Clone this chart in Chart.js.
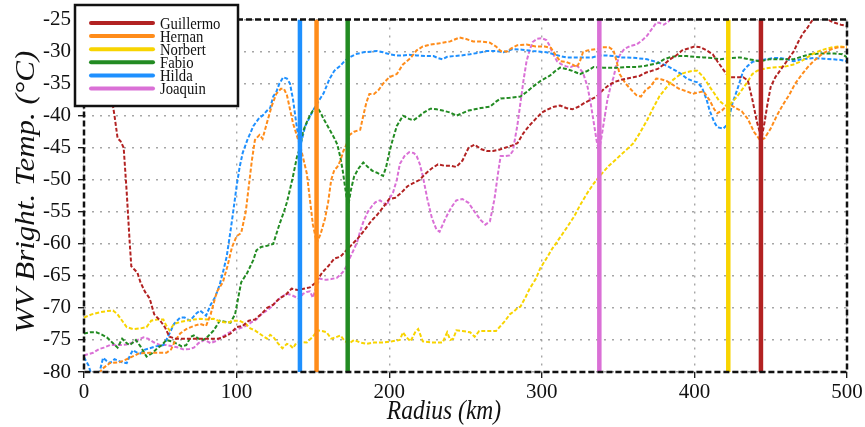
<!DOCTYPE html>
<html><head><meta charset="utf-8">
<script src="https://cdn.jsdelivr.net/npm/chart.js@4"></script>
<style>html,body{margin:0;padding:0;background:#fff}canvas{display:block}</style>
</head><body>
<canvas id="c" width="865" height="427"></canvas>
<script>
const stormNames = ['Guillermo','Hernan','Norbert','Fabio','Hilda','Joaquin'];
const stormColors = ['#b22222','#ff8c1a','#f8d400','#228b22','#1e90ff','#da70d6'];
const markerRadius = [443.6, 152.4, 422.2, 172.8, 141.5, 337.7];
const xTicks = [0,100,200,300,400,500];
const yTicks = [-25,-30,-35,-40,-45,-50,-55,-60,-65,-70,-75,-80];
const xTitle = 'Radius (km)';
const yTitle = 'WV Bright. Temp. (°C)';

const guillermo = [[0,-24],[5,-26],[10,-29],[15,-33],[18,-37],[20,-40],[22,-43.5],[24,-44],[26,-45],[28,-52],[30,-60],[31,-63.5],[33,-64],[35,-64.5],[37,-66],[40,-67.5],[43,-68.5],[46,-71],[50,-72],[53,-73],[56,-74.5],[60,-74.8],[70,-74.8],[80,-74.8],[88,-74.8],[92,-74.5],[96,-74],[100,-73],[104,-72.8],[108,-72],[112,-71.8],[116,-71],[120,-70],[124,-69.5],[128,-68.5],[132,-68],[136,-67],[140,-67.2],[144,-67],[148,-66.8],[152,-66],[156,-64.5],[160,-63.5],[164,-62.3],[168,-62],[172,-61],[176,-60],[180,-59],[184,-57.8],[188,-56.5],[192,-55.5],[196,-54.3],[200,-53],[204,-52.8],[208,-52],[212,-51],[216,-50.5],[220,-50],[224,-49],[228,-48.2],[232,-47.6],[236,-47.8],[240,-47.8],[244,-48],[248,-47],[252,-45],[256,-44.5],[260,-45.2],[264,-45.5],[268,-45.5],[272,-45.3],[276,-45],[280,-44.7],[284,-44.3],[288,-42.7],[292,-41.5],[296,-40.5],[300,-39.5],[304,-39],[308,-38.6],[312,-38.4],[316,-38.8],[320,-39],[324,-38.6],[328,-38],[332,-37.5],[336,-37],[340,-36],[344,-35.2],[348,-34.7],[352,-34.4],[356,-34.2],[360,-34],[364,-33.8],[368,-33.3],[372,-33],[376,-32.7],[380,-32],[384,-31.2],[388,-30.6],[392,-29.8],[396,-29.5],[400,-29.2],[404,-29.3],[408,-29.8],[412,-30.4],[415,-31.5],[418,-32.5],[421,-33.5],[424,-34],[428,-34],[432,-34],[435,-34.5],[438,-37.5],[441,-41],[444,-43.5],[446,-41],[448,-38],[450,-35.5],[453,-34],[456,-33],[459,-32],[462,-31],[465,-30],[468,-28.5],[471,-27.2],[474,-26.3],[477,-25.2],[480,-24.5],[485,-24.3],[489,-25.2],[492,-25.5],[496,-25.8],[500,-26]];

const hernan = [[0,-83],[5,-82],[9,-80.5],[12,-79.5],[17,-78.6],[23,-78.5],[30,-77.8],[36,-77.1],[43,-77],[50,-77],[54,-77],[57,-76.5],[60,-75],[63,-74],[67,-73.3],[72,-72.8],[76,-72.5],[80,-72.8],[83,-71],[87,-67.5],[91,-66],[94,-63.5],[97,-60.5],[100,-58.8],[103,-58.3],[106,-55],[108,-51],[110,-47],[112,-43.8],[115,-43],[117,-43.6],[120,-41],[123,-38.5],[126,-36.6],[129,-35.8],[131,-35.8],[133,-36.8],[135,-39],[137,-41.2],[140,-43.5],[142,-45],[144,-47],[146,-49],[148,-53],[150,-57],[152.5,-59.8],[155,-58.5],[158,-56],[160,-53.5],[162,-50],[164,-48.5],[166,-48],[168,-47],[170,-45.5],[172,-44.5],[174,-43],[177,-42.5],[181,-42.2],[183,-40],[185,-38],[187,-36.6],[190,-36.6],[193,-36],[196,-35],[200,-34],[205,-33.5],[209,-32],[214,-31],[218,-29.8],[222,-29.2],[227,-28.9],[233,-28.7],[240,-28.4],[246,-27.8],[250,-28],[255,-28.4],[260,-28.4],[266,-28.6],[270,-29.2],[273,-29.9],[277,-30],[280,-29.5],[284,-29],[290,-28.9],[296,-29.2],[302,-29.2],[306,-29.4],[309,-30.5],[312,-31.5],[316,-31.6],[320,-32],[323,-32.4],[325,-31.5],[327,-30.1],[330,-29.8],[336,-29.6],[340,-29.3],[344,-29.3],[347,-29.8],[349,-31.5],[351,-33.5],[355,-35],[358,-35.8],[362,-36.8],[365,-37],[368,-36],[371,-35.5],[375,-34.2],[378,-34.3],[382,-34.6],[386,-35.2],[390,-35.8],[395,-36.2],[399,-36.6],[402,-36.4],[406,-36.2],[410,-37.6],[413,-39],[415,-39.6],[418,-39.2],[421,-38.5],[423,-38.2],[427,-38.8],[431,-39.3],[435,-40.5],[439,-42.5],[443,-43.8],[446,-43.5],[450,-42],[454,-40],[458,-38.3],[462,-36.8],[466,-35],[470,-33.7],[474,-32.5],[478,-31.5],[483,-30.5],[487,-29.9],[491,-29.5],[495,-29.3],[500,-29.3]];

const norbert = [[0,-71.5],[5,-71],[10,-70.7],[15,-70.5],[19,-70.4],[22,-71],[25,-72],[28,-73],[32,-73.3],[37,-73.2],[41,-73],[44,-72],[48,-71.8],[52,-71.8],[54,-72.8],[56,-73.5],[59,-72.5],[63,-72.2],[67,-72],[72,-71.8],[76,-71.7],[80,-71.8],[85,-71.7],[90,-72.2],[94,-72.3],[98,-72],[102,-72],[106,-72.5],[109,-73.2],[112,-73.5],[115,-74],[118,-74.5],[120,-74.8],[122,-74.2],[124,-74.5],[127,-75.5],[130,-76.3],[133,-75.6],[135,-75.8],[137,-76.3],[139,-75.5],[142,-75.3],[146,-75.4],[150,-74.5],[153,-73.5],[156,-73.6],[159,-73.8],[162,-74.8],[165,-74.6],[168,-74.3],[171,-75.2],[174,-75.5],[177,-75],[181,-75.4],[185,-75.6],[190,-75.4],[196,-75.4],[202,-75.2],[207,-75],[209,-73.8],[211,-74.5],[214,-75.2],[217,-73.8],[219,-73.3],[222,-75.2],[228,-75.4],[235,-75.4],[238,-73.8],[240,-75],[242,-74.8],[244,-73.5],[248,-73.6],[253,-73.8],[256,-74.5],[259,-73.6],[264,-73.6],[270,-73.6],[273,-72.8],[276,-72],[279,-71],[282,-70.5],[284,-70],[286,-69.8],[289,-68.5],[292,-67],[296,-65.5],[299,-63.8],[303,-62.3],[307,-60.7],[312,-59],[316,-57.6],[321,-55.8],[325,-54],[330,-52],[334,-50.6],[338,-49.4],[344,-47.8],[351,-46.3],[356,-45.2],[360,-44.3],[364,-42.8],[369,-40.7],[373,-38.8],[377,-37],[382,-35.5],[386,-34.4],[391,-33.5],[395,-33.2],[399,-33],[402,-33],[406,-34],[410,-35.5],[413,-36.5],[416,-37.6],[419,-38.2],[422,-38.6],[425,-37.8],[428,-37],[431,-36],[434,-35],[438,-33.5],[441,-33],[445,-32.7],[450,-32.5],[456,-32.4],[460,-32.3],[465,-32],[470,-31.5],[474,-30.9],[478,-30.3],[482,-29.9],[487,-29.5],[491,-29.3],[495,-29.2],[500,-29.3]];

const fabio = [[0,-74],[4,-73.8],[8,-73.8],[12,-74.2],[15,-74.6],[19,-75.5],[22,-76.2],[25,-74.8],[28,-75.5],[30,-75.8],[34,-75],[37,-76],[41,-77.6],[45,-77],[48,-76.3],[51,-75.8],[54,-75],[57,-75.2],[61,-75.6],[64,-76],[67,-75.8],[70,-74.5],[72,-74.3],[75,-74.8],[78,-75],[81,-74.5],[85,-73.5],[89,-72],[93,-72.2],[96,-72.3],[99,-71],[101,-68.5],[103,-66],[107,-64.5],[111,-62.5],[113,-61],[116,-60.5],[120,-60.3],[124,-60],[126,-58.5],[128,-57],[131,-55],[133,-53.5],[135,-51.5],[137,-49.4],[139.5,-46.5],[141.5,-45],[143.5,-42.5],[146,-41],[148,-40],[150,-39.2],[152.5,-38.6],[155,-39.5],[157,-40.5],[161,-42.2],[164,-43.5],[166,-44.5],[168,-46.5],[169.5,-48.5],[171,-51],[173,-54.3],[175,-51.5],[177,-49.5],[180,-48.2],[183,-47.3],[186,-48],[189,-48.6],[192,-48.9],[196,-49.4],[198,-48],[200,-45.8],[202,-44],[205,-41.6],[209,-40],[213,-40.5],[216,-40.7],[219,-40.2],[222,-39.6],[227,-38.9],[231,-39],[235,-39.2],[240,-39.5],[244,-40],[248,-39.6],[252,-39.2],[256,-39],[260,-38.8],[266,-38.6],[270,-37.8],[273,-37.3],[279,-37.2],[286,-37],[290,-36.3],[294,-35.5],[299,-34.6],[305,-33.8],[309,-33],[312,-32.5],[316,-32.7],[320,-33],[325,-33.5],[330,-33],[334,-32.4],[340,-32.5],[345,-32.5],[350,-32.5],[356,-32.4],[362,-32.4],[368,-32.2],[372,-32],[376,-31.8],[380,-31.2],[385,-30.8],[390,-30.7],[395,-30.7],[400,-30.8],[406,-30.9],[412,-31],[417,-31.2],[423,-31],[430,-30.9],[436,-31.2],[443,-31.5],[449,-31.2],[454,-31.2],[460,-31.2],[465,-31.2],[470,-30.8],[476,-30.4],[482,-30.3],[487,-30.3],[492,-30.3],[497,-30.4],[500,-30.9]];

const hilda = [[0,-77.7],[3,-79],[5,-80.5],[8,-81],[10,-80.2],[12.5,-77.8],[15,-78.3],[17,-78.6],[20,-78],[22,-78.2],[25,-78.5],[28,-78.6],[30,-77.5],[32,-76.6],[35,-77],[37,-77.1],[40,-76.5],[43,-76.3],[47,-76],[52,-75.8],[54,-75],[56,-74],[59,-72.5],[63,-71.5],[66,-71.5],[69.5,-72],[73,-71],[76,-70.4],[78,-70.8],[80,-71.2],[83,-69.5],[86,-68.3],[89,-66.3],[91,-64.5],[93.5,-62],[96,-58],[98,-54.6],[100,-51],[102,-48],[104,-45.8],[107,-43.8],[109,-42.7],[111,-41.6],[115,-40.3],[117,-40],[120,-39.2],[122,-38.8],[124,-37],[126,-36.3],[128,-35],[130.5,-34],[133,-34.2],[135,-35],[137,-37.5],[139,-41],[141.5,-45],[143,-43.5],[145,-41.6],[148,-40.2],[150,-39.2],[153,-38],[157,-36.5],[161,-34.2],[164,-33],[168,-32.2],[171,-31.4],[174,-30.9],[178,-30.4],[183,-30.1],[188,-30],[192,-29.9],[196,-30.1],[200,-30.4],[205,-30.6],[209,-30.6],[213,-30.5],[218,-30.6],[225,-30.7],[229,-30.7],[232,-31],[235,-31.2],[238,-30.8],[242,-30.7],[247,-30.6],[253,-30.4],[258,-30.2],[264,-29.9],[270,-29.9],[275,-30.1],[281,-29.6],[287,-29.7],[294,-29.9],[303,-30.1],[308,-30.4],[312,-30.7],[316,-30.9],[320,-30.9],[325,-30.9],[333,-30.9],[338,-30.6],[343,-30.6],[348,-30.7],[351,-30.9],[356,-30.9],[362,-31],[369,-31.2],[375,-31.6],[382,-32.2],[388,-33],[392,-33.6],[395,-34.2],[399,-34.6],[402,-34.8],[405,-35.6],[408,-37.5],[410,-39.2],[413,-41],[415,-41.8],[419,-42],[421,-41.5],[423,-40],[425,-38],[428,-36],[430,-34.5],[432,-33],[435,-32.2],[438,-31.6],[442,-31.4],[447,-31.2],[452,-31],[456,-31],[461,-31.2],[465,-31.5],[470,-31.2],[478,-31],[485,-31.1],[491,-31.2],[496,-31.3],[500,-31.5]];

const joaquin = [[0,-77.4],[3,-77.2],[6,-77],[10,-76.4],[13,-76.2],[17,-75.8],[20,-75.8],[24,-75.8],[28,-75.7],[32,-75.4],[36,-74.9],[39,-74.6],[42,-74.8],[46,-75.4],[50,-75.8],[54,-75.8],[58,-76],[62,-76.2],[65.5,-76.5],[69,-76.4],[72,-76.2],[75,-75.5],[79,-75],[83,-75.5],[86,-75.2],[90,-74.6],[94,-74],[98,-73.5],[102,-73.2],[107,-72.7],[110,-72.2],[113,-71.8],[117,-70.8],[120,-70.4],[123,-69.8],[126,-69],[130,-68.2],[133,-67.8],[136,-68],[139.5,-68.4],[141.5,-68.6],[143.5,-67.8],[146,-67.5],[148,-67.4],[150,-68.4],[152.5,-66.5],[154.7,-65.4],[157,-65.6],[159,-65.6],[162,-65.5],[165.7,-65.3],[168,-64.8],[170,-64.3],[172,-63.5],[174,-62.3],[177,-60.8],[179,-59.7],[181,-58],[183,-56.6],[186,-55],[189,-54],[191,-53.5],[194,-53.2],[196,-53.6],[198.6,-54],[200,-53],[202.5,-52],[205,-50],[207,-47.5],[210,-46.3],[213,-45.7],[216,-45.8],[218,-46.3],[220,-47.5],[222,-49.4],[225,-53],[228,-56],[231,-57.8],[233,-58.1],[236,-56.5],[238,-55.5],[241,-54.2],[244,-53.2],[248,-53],[252,-53.6],[256,-55],[260,-56.3],[263,-57],[266,-56.5],[269,-53],[271,-49.5],[273,-46.3],[276,-46.3],[279,-46.2],[281,-45.5],[284,-41.5],[286,-38],[288,-34.5],[290,-31.5],[292,-29.8],[294,-28.5],[297,-28],[300,-27.9],[303,-28.2],[305,-29],[307,-30.2],[310,-31.5],[313,-32],[316,-32.3],[319,-32.4],[322,-32.1],[324,-32.4],[327,-33.3],[330,-35.5],[332,-38],[334,-41],[336,-44],[337.5,-45.5],[339,-43.5],[341,-40.5],[343,-37.5],[345,-35.5],[347,-34],[349,-32],[351,-30.6],[354,-29.6],[358,-29.1],[362,-28.9],[366,-28.2],[369,-27.5],[372,-26.5],[375,-25.5],[377,-25.5],[380,-25.8],[383,-25.3],[386,-24.5],[390,-24]];

const seriesData = [guillermo, hernan, norbert, fabio, hilda, joaquin];
const SERIF = '"Liberation Serif", "Times New Roman", serif';

const datasets = seriesData.map((pts, i) => ({
  label: stormNames[i],
  data: pts.map(p => ({x: p[0], y: p[1]})),
  borderColor: stormColors[i],
  backgroundColor: stormColors[i],
  borderWidth: 2,
  borderDash: [4, 2],
  pointRadius: 0,
  tension: 0,
  fill: false,
  clip: 0,
  order: 1
}));
markerRadius.forEach((r, i) => datasets.push({
  label: stormNames[i] + ' marker',
  isMarker: true,
  data: [{x: r, y: yTicks[yTicks.length - 1]}, {x: r, y: yTicks[0]}],
  borderColor: stormColors[i],
  borderWidth: 4.5,
  pointRadius: 0,
  fill: false,
  clip: 0,
  order: 0
}));

const decor = {
  id: 'decor',
  afterDatasetsDraw(chart) {
    const {ctx, chartArea: a} = chart;
    ctx.save();
    ctx.strokeStyle = '#111';
    ctx.lineWidth = 2.5;
    ctx.setLineDash([6, 3]);
    ctx.strokeRect(a.left, a.top, a.right - a.left, a.bottom - a.top);
    ctx.restore();
  },
  afterDraw(chart) {
    const {ctx} = chart;
    ctx.save();
    ctx.fillStyle = '#fff';
    ctx.fillRect(75, 5, 163, 101);
    ctx.strokeStyle = '#111';
    ctx.lineWidth = 2.5;
    ctx.setLineDash([]);
    ctx.strokeRect(75, 5, 163, 101);
    const items = chart.data.datasets.filter(d => !d.isMarker);
    items.forEach((d, i) => {
      const y = 23 + i * 13.1;
      ctx.strokeStyle = d.borderColor;
      ctx.lineWidth = 4;
      ctx.lineCap = 'round';
      ctx.beginPath(); ctx.moveTo(91, y); ctx.lineTo(153, y); ctx.stroke();
      ctx.save();
      ctx.translate(160, y + 5.5);
      ctx.scale(0.84, 1);
      ctx.fillStyle = '#111';
      ctx.font = '17.5px ' + SERIF;
      ctx.textBaseline = 'alphabetic';
      ctx.fillText(d.label, 0, 0);
      ctx.restore();
    });
    ctx.restore();
    ctx.save();
    ctx.fillStyle = '#111';
    ctx.font = 'italic 28px ' + SERIF;
    ctx.textAlign = 'center';
    ctx.textBaseline = 'alphabetic';
    ctx.translate(444, 419);
    ctx.scale(0.84, 1);
    ctx.fillText(xTitle, 0, 0);
    ctx.restore();
    ctx.save();
    ctx.fillStyle = '#111';
    ctx.font = 'italic 31px ' + SERIF;
    ctx.textAlign = 'center';
    ctx.textBaseline = 'alphabetic';
    ctx.translate(34, 192);
    ctx.rotate(-Math.PI / 2);
    ctx.scale(1, 0.88);
    ctx.fillText(yTitle, 0, 0);
    ctx.restore();
  }
};

new Chart(document.getElementById('c'), {
  type: 'line',
  data: {datasets},
  options: {
    responsive: false,
    animation: false,
    devicePixelRatio: 1,
    layout: {padding: {top: 15, right: 18, left: 0, bottom: 0}},
    plugins: {legend: {display: false}, tooltip: {enabled: false}, title: {display: false}},
    scales: {
      x: {
        type: 'linear', min: xTicks[0], max: xTicks[xTicks.length - 1],
        afterBuildTicks: s => { s.ticks = xTicks.map(v => ({value: v})); },
        afterFit: s => { s.height = 55; },
        ticks: {font: {family: SERIF, size: 21}, color: '#111', padding: 2, maxRotation: 0},
        grid: {color: 'rgba(150,150,150,0.85)', lineWidth: 1.4, tickColor: '#111', tickLength: 6, tickWidth: 1.3},
        border: {display: false, dash: [2, 6]}
      },
      y: {
        type: 'linear', min: yTicks[yTicks.length - 1], max: yTicks[0],
        afterBuildTicks: s => { s.ticks = yTicks.map(v => ({value: v})); },
        afterFit: s => { s.width = 84; },
        ticks: {font: {family: SERIF, size: 21}, color: '#111', padding: 7},
        grid: {color: 'rgba(150,150,150,0.85)', lineWidth: 1.4, tickColor: '#111', tickLength: 6, tickWidth: 1.3},
        border: {display: false, dash: [2, 6]}
      }
    }
  },
  plugins: [decor]
});
</script>
</body></html>
